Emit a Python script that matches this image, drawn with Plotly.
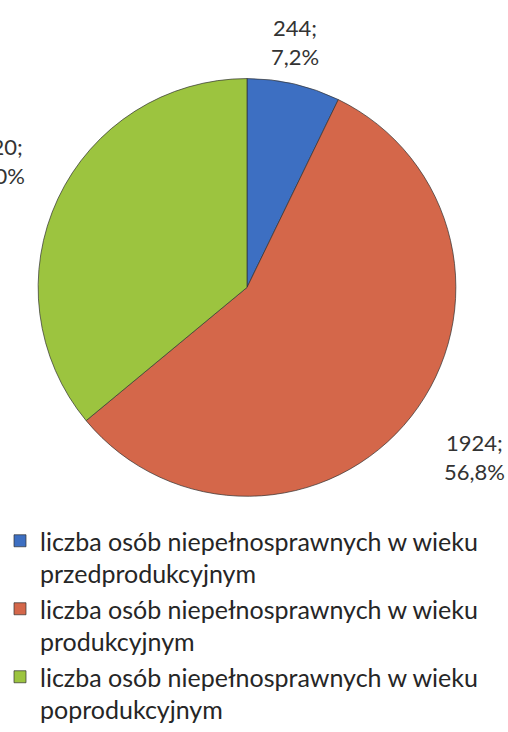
import plotly.graph_objects as go

categories = [
    "liczba osób niepełnosprawnych w wieku<br>przedprodukcyjnym",
    "liczba osób niepełnosprawnych w wieku<br>produkcyjnym",
    "liczba osób niepełnosprawnych w wieku<br>poprodukcyjnym",
]
values = [244, 1924, 1220]
percent_labels = ["7,2%", "56,8%", "36,0%"]
colors = ["#3D6FC2", "#D4674A", "#9CC43F"]

W, H = 508, 732
cx, cy, r = 247, 289, 210

fig = go.Figure(go.Pie(
    labels=categories,
    values=values,
    sort=False,
    direction="clockwise",
    rotation=0,
    textinfo="none",
    marker=dict(colors=colors, line=dict(color="rgba(50,50,50,0.7)", width=1)),
    domain=dict(x=[(cx - r) / W, (cx + r) / W], y=[1 - (cy + r) / H, 1 - (cy - r) / H]),
    hoverinfo="label+value+percent",
))

# label anchor positions (pixels), one per slice
label_pos = [(295, 42), (474, 460), (-6, 162)]
for v, p, (px, py) in zip(values, percent_labels, label_pos):
    fig.add_annotation(
        x=px / W, y=1 - py / H, xref="paper", yref="paper",
        text=f"{v};<br>{p}", showarrow=False, align="center",
        xanchor="center", yanchor="middle",
        font=dict(family="Lato", size=22, color="#333333"),
    )

fig.update_layout(
    width=W, height=H,
    margin=dict(l=0, r=0, t=0, b=0),
    paper_bgcolor="white", plot_bgcolor="white",
    showlegend=True,
    legend=dict(
        x=0, y=1 - 521 / H, xanchor="left", yanchor="top",
        font=dict(family="Lato", size=25, color="#262626"),
        valign="top", bgcolor="rgba(0,0,0,0)",
    ),
)

fig.write_html(
    "out.html",
    config={"displayModeBar": False},
    post_script="document.body.style.margin='0';document.body.style.overflow='hidden';",
)
